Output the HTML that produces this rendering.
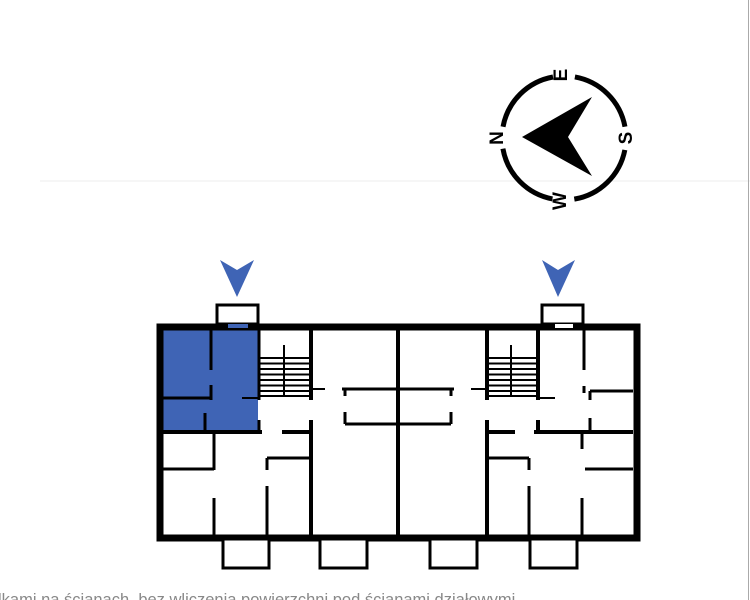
<!DOCTYPE html>
<html><head><meta charset="utf-8"><style>
body{margin:0;width:750px;height:600px;overflow:hidden;background:#fff;font-family:"Liberation Sans",sans-serif}
</style></head><body>
<svg width="750" height="600" viewBox="0 0 750 600" xmlns="http://www.w3.org/2000/svg" style="position:absolute;left:0;top:0">
<line x1="40" y1="181" x2="750" y2="181" stroke="#eee" stroke-width="1"/>
<line x1="748.5" y1="0" x2="748.5" y2="600" stroke="#aaa" stroke-width="1"/>
<g fill="none" stroke="#000" stroke-width="5">
<circle cx="564" cy="138" r="62" stroke-dasharray="75 22" stroke-dashoffset="-12"/>
</g>
<polygon points="522,137 592,97 568,137 592,176" fill="#000"/>
<g font-weight="bold" font-size="19" fill="#000" text-anchor="middle">
<text x="0" y="0" transform="translate(560,75) rotate(-90)" dy="7">E</text>
<text x="0" y="0" transform="translate(496,138) rotate(-90)" dy="7">N</text>
<text x="0" y="0" transform="translate(625,138) rotate(-90)" dy="7">S</text>
<text x="0" y="0" transform="translate(559,201) rotate(-90)" dy="7">W</text>
</g>
<polygon points="220,260 237,270 254,260 237,297" fill="#3f64b5"/>
<polygon points="542,260 558,270 575,260 558,297" fill="#3f64b5"/>
<rect x="163" y="330" width="95" height="101" fill="#3f64b5"/>
<rect x="217" y="305" width="41" height="19" fill="none" stroke="#000" stroke-width="3"/>
<rect x="542" y="305" width="41" height="19" fill="none" stroke="#000" stroke-width="3"/>
<rect x="160" y="327" width="477" height="211" fill="none" stroke="#000" stroke-width="7"/>
<rect x="228" y="324" width="20" height="4" fill="#3f64b5"/>
<rect x="555" y="324" width="18" height="4" fill="#fff"/>
<g fill="#fff" stroke="#000" stroke-width="3">
<rect x="223" y="539" width="46" height="29"/>
<rect x="320" y="539" width="47" height="29"/>
<rect x="430" y="539" width="47" height="29"/>
<rect x="530" y="539" width="47" height="29"/>
</g>
<g stroke="#000" fill="none">
<line x1="311" y1="330" x2="311" y2="400" stroke-width="4"/>
<line x1="311" y1="420" x2="311" y2="535" stroke-width="4"/>
<line x1="398" y1="330" x2="398" y2="535" stroke-width="4"/>
<line x1="487" y1="330" x2="487" y2="400" stroke-width="4"/>
<line x1="487" y1="420" x2="487" y2="535" stroke-width="4"/>
<line x1="259" y1="330" x2="259" y2="400" stroke-width="3"/>
<line x1="538" y1="330" x2="538" y2="400" stroke-width="4"/>
<line x1="259" y1="420" x2="259" y2="432" stroke-width="3"/>
<line x1="538" y1="420" x2="538" y2="432" stroke-width="4"/>
<g stroke-width="2">
<line x1="260" y1="358" x2="310" y2="358"/><line x1="260" y1="363.5" x2="310" y2="363.5"/><line x1="260" y1="369" x2="310" y2="369"/><line x1="260" y1="374.5" x2="310" y2="374.5"/><line x1="260" y1="380" x2="310" y2="380"/><line x1="260" y1="385.5" x2="310" y2="385.5"/><line x1="260" y1="391" x2="310" y2="391"/><line x1="260" y1="396" x2="310" y2="396"/>
<line x1="284" y1="345" x2="284" y2="397"/>
<line x1="488" y1="358" x2="537" y2="358"/><line x1="488" y1="363.5" x2="537" y2="363.5"/><line x1="488" y1="369" x2="537" y2="369"/><line x1="488" y1="374.5" x2="537" y2="374.5"/><line x1="488" y1="380" x2="537" y2="380"/><line x1="488" y1="385.5" x2="537" y2="385.5"/><line x1="488" y1="391" x2="537" y2="391"/><line x1="488" y1="396" x2="537" y2="396"/>
<line x1="511" y1="345" x2="511" y2="397"/>
<line x1="310" y1="389" x2="325" y2="389"/>
<line x1="471" y1="389" x2="487" y2="389"/>
<line x1="538" y1="398" x2="555" y2="398"/>
<line x1="242" y1="398" x2="258" y2="398"/>
</g>
<line x1="211" y1="330" x2="211" y2="370" stroke-width="3"/>
<line x1="211" y1="385" x2="211" y2="400" stroke-width="3"/>
<line x1="163" y1="398" x2="211" y2="398" stroke-width="3"/>
<line x1="205" y1="413" x2="205" y2="431" stroke-width="3"/>
<line x1="584" y1="330" x2="584" y2="370" stroke-width="3"/>
<line x1="584" y1="386" x2="584" y2="393" stroke-width="3"/>
<line x1="590" y1="391" x2="633" y2="391" stroke-width="3"/>
<line x1="590" y1="391" x2="590" y2="400" stroke-width="3"/>
<line x1="590" y1="418" x2="590" y2="432" stroke-width="3"/>
<line x1="163" y1="432" x2="262" y2="432" stroke-width="4"/>
<line x1="282" y1="432" x2="311" y2="432" stroke-width="4"/>
<line x1="487" y1="432" x2="515" y2="432" stroke-width="4"/>
<line x1="534" y1="432" x2="633" y2="432" stroke-width="4"/>
<g stroke-width="3">
<line x1="342" y1="389" x2="454" y2="389"/>
<line x1="345" y1="389" x2="345" y2="396"/><line x1="451" y1="389" x2="451" y2="396"/>
<line x1="345" y1="424" x2="451" y2="424"/>
<line x1="345" y1="412" x2="345" y2="424"/><line x1="451" y1="412" x2="451" y2="424"/>
</g>
<g stroke-width="3">
<line x1="214" y1="432" x2="214" y2="470"/>
<line x1="214" y1="498" x2="214" y2="535"/>
<line x1="163" y1="469" x2="214" y2="469"/>
<line x1="267" y1="458" x2="311" y2="458"/>
<line x1="267" y1="458" x2="267" y2="470"/>
<line x1="267" y1="486" x2="267" y2="535"/>
<line x1="529" y1="458" x2="487" y2="458"/>
<line x1="529" y1="458" x2="529" y2="470"/>
<line x1="529" y1="486" x2="529" y2="535"/>
<line x1="582" y1="432" x2="582" y2="449"/>
<line x1="582" y1="498" x2="582" y2="535"/>
<line x1="585" y1="469" x2="633" y2="469"/>
</g>
</g>
<text x="-2" y="605" font-size="16.5" fill="#888">lkami na ścianach, bez wliczenia powierzchni pod ścianami działowymi</text>
</svg>
</body></html>
